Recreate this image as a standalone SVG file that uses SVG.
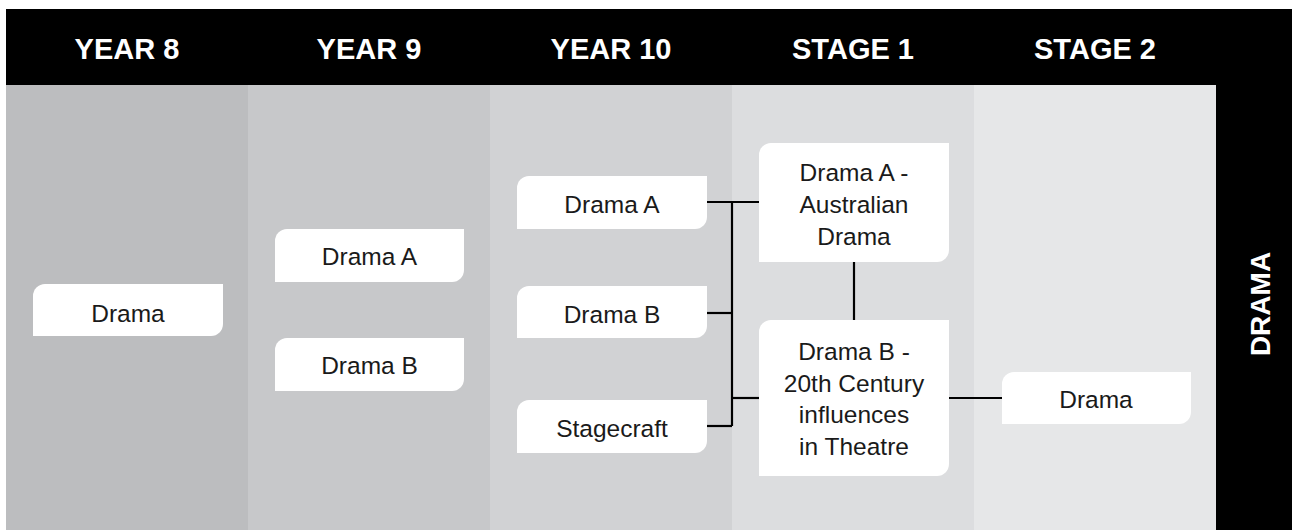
<svg xmlns="http://www.w3.org/2000/svg" width="1292" height="530" viewBox="0 0 1292 530">
<style>
.hdr{font-family:"Liberation Sans",Arial,sans-serif;font-weight:bold;font-size:29px;fill:#fff;text-anchor:middle}
.lbl{font-family:"Liberation Sans",Arial,sans-serif;font-size:24.5px;fill:#1a1a1a;text-anchor:middle}
.box{fill:#fff}
.con{stroke:#000;stroke-width:2.2;fill:none}
</style>
<rect width="1292" height="530" fill="#fff"/>
<g id="columns">
<rect x="6" y="85" width="242" height="445" fill="#bcbdbf"/>
<rect x="248" y="85" width="242" height="445" fill="#c7c8ca"/>
<rect x="490" y="85" width="242" height="445" fill="#d1d2d4"/>
<rect x="732" y="85" width="242" height="445" fill="#dcdddf"/>
<rect x="974" y="85" width="242" height="445" fill="#e6e7e8"/>
</g>
<g id="header">
<rect x="6" y="9" width="1286" height="76" fill="#000"/>
<rect x="1216" y="9" width="76" height="521" fill="#000"/>
<text class="hdr" x="127" y="59">YEAR 8</text>
<text class="hdr" x="369" y="59">YEAR 9</text>
<text class="hdr" x="611" y="59">YEAR 10</text>
<text class="hdr" x="853" y="59">STAGE 1</text>
<text class="hdr" x="1095" y="59">STAGE 2</text>
<text class="hdr" transform="translate(1270,304) rotate(-90)" x="0" y="0" style="font-size:28px">DRAMA</text>
</g>
<g id="connectors">
<path class="con" d="M707,202 H759"/>
<path class="con" d="M707,313 H732"/>
<path class="con" d="M707,426 H732"/>
<path class="con" d="M732,202 V426"/>
<path class="con" d="M732,398 H759"/>
<path class="con" d="M854,262 V320"/>
<path class="con" d="M949,398 H1002"/>
</g>
<g id="y8-drama">
<path class="box" d="M45,284 H223 V324 A12,12 0 0 1 211,336 H33 V296 A12,12 0 0 1 45,284 Z"/>
<text class="lbl" x="128" y="322">Drama</text>
</g>
<g id="y9-drama-a">
<path class="box" d="M287,229 H464 V270 A12,12 0 0 1 452,282 H275 V241 A12,12 0 0 1 287,229 Z"/>
<text class="lbl" x="369.5" y="265">Drama A</text>
</g>
<g id="y9-drama-b">
<path class="box" d="M287,338 H464 V379 A12,12 0 0 1 452,391 H275 V350 A12,12 0 0 1 287,338 Z"/>
<text class="lbl" x="369.5" y="374">Drama B</text>
</g>
<g id="y10-drama-a">
<path class="box" d="M529,176 H707 V217 A12,12 0 0 1 695,229 H517 V188 A12,12 0 0 1 529,176 Z"/>
<text class="lbl" x="612" y="213">Drama A</text>
</g>
<g id="y10-drama-b">
<path class="box" d="M529,286 H707 V326 A12,12 0 0 1 695,338 H517 V298 A12,12 0 0 1 529,286 Z"/>
<text class="lbl" x="612" y="323">Drama B</text>
</g>
<g id="y10-stagecraft">
<path class="box" d="M529,400 H707 V441 A12,12 0 0 1 695,453 H517 V412 A12,12 0 0 1 529,400 Z"/>
<text class="lbl" x="612" y="437">Stagecraft</text>
</g>
<g id="s1-drama-a">
<path class="box" d="M771,143 H949 V250 A12,12 0 0 1 937,262 H759 V155 A12,12 0 0 1 771,143 Z"/>
<text class="lbl" x="854" y="181">Drama A -</text>
<text class="lbl" x="854" y="213">Australian</text>
<text class="lbl" x="854" y="245">Drama</text>
</g>
<g id="s1-drama-b">
<path class="box" d="M771,320 H949 V464 A12,12 0 0 1 937,476 H759 V332 A12,12 0 0 1 771,320 Z"/>
<text class="lbl" x="854" y="360">Drama B -</text>
<text class="lbl" x="854" y="392">20th Century</text>
<text class="lbl" x="854" y="423">influences</text>
<text class="lbl" x="854" y="455">in Theatre</text>
</g>
<g id="s2-drama">
<path class="box" d="M1014,372 H1191 V412 A12,12 0 0 1 1179,424 H1002 V384 A12,12 0 0 1 1014,372 Z"/>
<text class="lbl" x="1096" y="408">Drama</text>
</g>
</svg>
